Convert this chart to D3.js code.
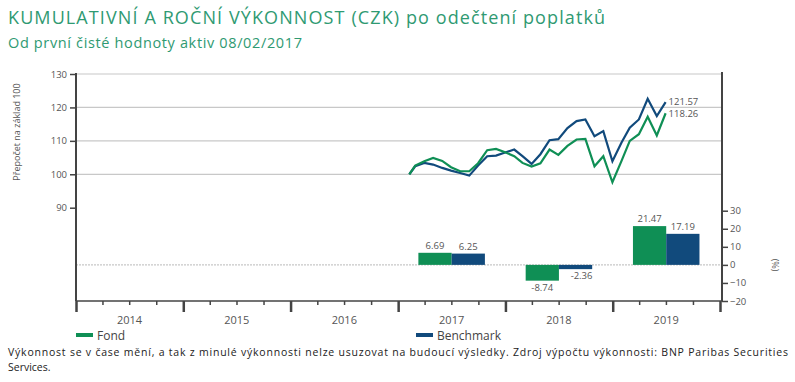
<!DOCTYPE html>
<html>
<head>
<meta charset="utf-8">
<script src="https://cdn.jsdelivr.net/npm/d3@7"></script>
<style>
  body { margin: 0; background: #fff; }
  svg { display: block; font-family: "Open Sans", sans-serif; }
</style>
</head>
<body>
<svg id="chart" width="795" height="382"></svg>
<script>
// cumulative values, base 100 (month ends, first point = launch date)
var lineDates = ["2017-02-08", "2017-02-28", "2017-03-31", "2017-04-30", "2017-05-31", "2017-06-30",
    "2017-07-31", "2017-08-31", "2017-09-30", "2017-10-31", "2017-11-30", "2017-12-31",
    "2018-01-31", "2018-02-28", "2018-03-31", "2018-04-30", "2018-05-31", "2018-06-30",
    "2018-07-31", "2018-08-31", "2018-09-30", "2018-10-31", "2018-11-30", "2018-12-31",
    "2019-01-31", "2019-02-28", "2019-03-31", "2019-04-30", "2019-05-31", "2019-06-30"];
var fondValues = [100, 102.6, 103.9, 104.9, 104.0, 102.1, 100.9, 100.9, 103.3, 107.2, 107.6, 106.6,
    105.4, 103.4, 102.3, 103.3, 107.4, 105.8, 108.5, 110.4, 110.6, 102.4, 105.4, 97.6,
    104.0, 110.0, 112.0, 117.2, 111.6, 118.26];
var benchValues = [100, 102.4, 103.4, 102.9, 101.9, 101.1, 100.4, 99.6, 102.6, 105.4, 105.6, 106.5,
    107.4, 105.4, 103.1, 106.0, 110.2, 110.5, 113.8, 115.9, 116.4, 111.4, 112.9, 103.9,
    109.5, 113.9, 116.4, 122.6, 117.4, 121.57];

// yearly performance (%)
var barYears = [2017, 2018, 2019];
var fondYearly = [6.69, -8.74, 21.47];
var benchYearly = [6.25, -2.36, 17.19];

var axisYears = [2014, 2015, 2016, 2017, 2018, 2019];
var leftTicks = [90, 100, 110, 120, 130];
var gridTicks = [100, 110, 120, 130];
var rightTicks = [-20, -10, 0, 10, 20, 30];

var green = "#0f8f55", blue = "#114a7c", textCol = "#555";

var svg = d3.select("#chart");
var parse = d3.timeParse("%Y-%m-%d");

var left = 76, right = 720, axisRight = 722, bottom = 301;

var x = d3.scaleTime()
    .domain([new Date(2014, 0, 1), new Date(2020, 0, 1)])
    .range([left, right]);
var y = d3.scaleLinear().domain([90, 130]).range([207.7, 74]);
var yPct = d3.scaleLinear().domain([-20, 30]).range([301, 210.7]);

// titles
svg.append("text").attr("x", 8).attr("y", 24)
    .attr("fill", "#2f9a72").style("font-size", "18px")
    .attr("textLength", 597).attr("lengthAdjust", "spacing")
    .text("KUMULATIVNÍ A ROČNÍ VÝKONNOST (CZK) po odečtení poplatků");
svg.append("text").attr("x", 8).attr("y", 48)
    .attr("fill", "#2f9a72").style("font-size", "14.5px")
    .attr("textLength", 294).attr("lengthAdjust", "spacing")
    .text("Od první čisté hodnoty aktiv 08/02/2017");

// grid lines
svg.append("g").selectAll("line").data(gridTicks).enter().append("line")
    .attr("x1", left).attr("x2", axisRight)
    .attr("y1", function (d) { return y(d); }).attr("y2", function (d) { return y(d); })
    .attr("stroke", "#c8c8c8").attr("stroke-width", 1.2);
svg.append("line")
    .attr("x1", left).attr("x2", axisRight)
    .attr("y1", yPct(0)).attr("y2", yPct(0))
    .attr("stroke", "#c8c8c8").attr("stroke-width", 1.2).attr("stroke-dasharray", "2,1");

// bars
var barW = (x(new Date(2015, 0, 1)) - x(new Date(2014, 0, 1))) * 0.31;
function yearMid(yr) { return x(new Date(yr, 6, 2)); }
var bars = svg.append("g");
function drawBars(values, color, offset, labelDx) {
    bars.selectAll(null).data(values).enter().append("rect")
        .attr("x", function (d, i) { return yearMid(barYears[i]) + offset; })
        .attr("width", barW)
        .attr("y", function (d) { return yPct(Math.max(0, d)); })
        .attr("height", function (d) { return Math.abs(yPct(d) - yPct(0)); })
        .attr("fill", color);
    bars.selectAll(null).data(values).enter().append("text")
        .attr("x", function (d, i) { return yearMid(barYears[i]) + offset + barW / 2 + labelDx(d); })
        .attr("y", function (d) { return d >= 0 ? yPct(d) - 4 : yPct(d) + 10; })
        .attr("text-anchor", "middle")
        .attr("fill", textCol).style("font-size", "9.5px")
        .text(function (d) { return d.toFixed(2); });
}
drawBars(fondYearly, green, -barW, function () { return 0; });
drawBars(benchYearly, blue, 0, function (d) { return d < 0 ? 6 : 0; });

// lines
var line = d3.line()
    .x(function (d, i) { return x(parse(lineDates[i])); })
    .y(function (d) { return y(d); });
svg.append("path").datum(benchValues).attr("d", line)
    .attr("fill", "none").attr("stroke", blue).attr("stroke-width", 2.2);
svg.append("path").datum(fondValues).attr("d", line)
    .attr("fill", "none").attr("stroke", green).attr("stroke-width", 2.2);

var lastDate = parse(lineDates[lineDates.length - 1]);
svg.append("text").attr("x", x(lastDate) + 3).attr("y", y(benchValues[benchValues.length - 1]) + 3)
    .attr("fill", textCol).style("font-size", "9.5px").text(benchValues[benchValues.length - 1].toFixed(2));
svg.append("text").attr("x", x(lastDate) + 3).attr("y", y(fondValues[fondValues.length - 1]) + 4)
    .attr("fill", textCol).style("font-size", "9.5px").text(fondValues[fondValues.length - 1].toFixed(2));

// left axis
var axisCol = "#444";
var leftAxis = svg.append("g").attr("transform", "translate(" + left + ",0)")
    .call(d3.axisLeft(y).tickValues(leftTicks).tickSize(6).tickPadding(3));
leftAxis.select(".domain").remove();
leftAxis.selectAll("line").attr("stroke", axisCol).attr("stroke-width", 1.5);
leftAxis.selectAll("text").attr("fill", textCol).style("font-size", "9.5px")
    .style("font-family", "Open Sans, sans-serif");
svg.append("line").attr("x1", left).attr("x2", left).attr("y1", 73).attr("y2", bottom)
    .attr("stroke", axisCol).attr("stroke-width", 2);

svg.append("text")
    .attr("transform", "translate(20,132) rotate(-90)")
    .attr("text-anchor", "middle").attr("fill", textCol).style("font-size", "9px")
    .text("Přepočet na základ 100");

// right axis
var rightAxis = svg.append("g").attr("transform", "translate(" + axisRight + ",0)")
    .call(d3.axisRight(yPct).tickValues(rightTicks).tickSize(6).tickPadding(2));
rightAxis.select(".domain").remove();
rightAxis.selectAll("line").attr("stroke", axisCol).attr("stroke-width", 1.5);
rightAxis.selectAll("text").attr("fill", textCol).style("font-size", "9.5px")
    .style("font-family", "Open Sans, sans-serif");
svg.append("line").attr("x1", axisRight).attr("x2", axisRight).attr("y1", 72).attr("y2", bottom)
    .attr("stroke", axisCol).attr("stroke-width", 2);
svg.append("text")
    .attr("transform", "translate(772,265) rotate(90)")
    .attr("text-anchor", "middle").attr("fill", textCol).style("font-size", "9px")
    .text("(%)");

// bottom axis: quarter ticks, year ticks, year labels
var quarterTicks = d3.timeMonth.every(3).range(new Date(2014, 0, 1), new Date(2020, 0, 2));
var xAxis = svg.append("g").attr("transform", "translate(0," + bottom + ")")
    .call(d3.axisBottom(x).tickValues(quarterTicks).tickSize(4).tickFormat(""));
xAxis.select(".domain").remove();
xAxis.selectAll("line").attr("stroke", axisCol)
    .attr("y2", function (d) { return d.getMonth() === 0 ? 11 : 4; })
    .attr("stroke-width", function (d) { return d.getMonth() === 0 ? 2.5 : 1.5; });
svg.append("line").attr("x1", left).attr("x2", axisRight).attr("y1", bottom).attr("y2", bottom)
    .attr("stroke", axisCol).attr("stroke-width", 1.5);
svg.append("g").selectAll("text").data(axisYears).enter().append("text")
    .attr("x", function (d) { return yearMid(d); }).attr("y", 324)
    .attr("text-anchor", "middle").attr("fill", textCol).style("font-size", "11px")
    .text(function (d) { return d; });

// legend
var legend = [{ name: "Fond", color: green, x: 76 }, { name: "Benchmark", color: blue, x: 416 }];
var lg = svg.append("g").selectAll("g").data(legend).enter().append("g")
    .attr("transform", function (d) { return "translate(" + d.x + ",335)"; });
lg.append("rect").attr("x", 0).attr("y", -2).attr("width", 17).attr("height", 4)
    .attr("fill", function (d) { return d.color; });
lg.append("text").attr("x", 21).attr("y", 4.5).attr("fill", "#444").style("font-size", "12px")
    .text(function (d) { return d.name; });

// footnote
svg.append("text").attr("x", 8).attr("y", 356).attr("fill", "#222").style("font-size", "10.5px")
    .attr("textLength", 780).attr("lengthAdjust", "spacing")
    .text("Výkonnost se v čase mění, a tak z minulé výkonnosti nelze usuzovat na budoucí výsledky. Zdroj výpočtu výkonnosti: BNP Paribas Securities");
svg.append("text").attr("x", 8).attr("y", 371).attr("fill", "#222").style("font-size", "10.5px")
    .text("Services.");
</script>
</body>
</html>
